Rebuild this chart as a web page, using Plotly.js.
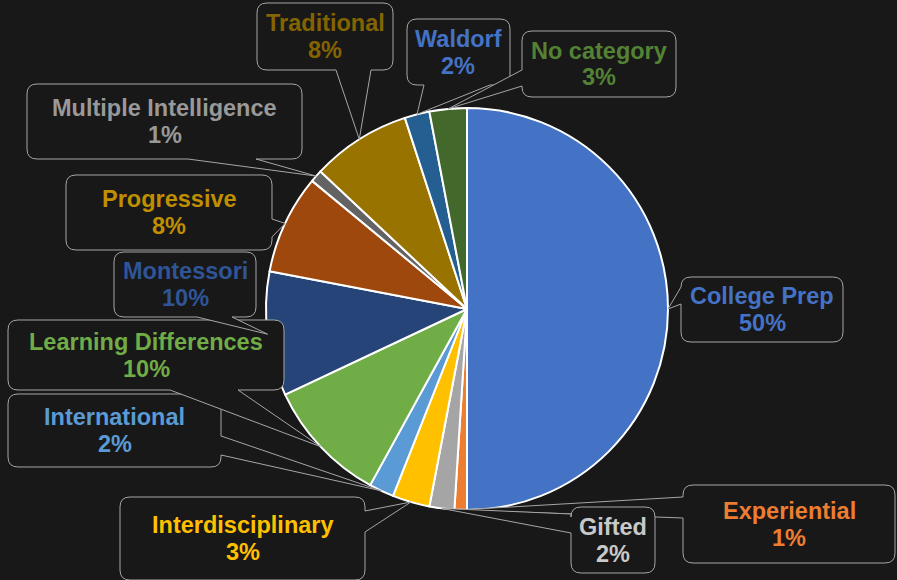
<!DOCTYPE html>
<html>
<head>
<meta charset="utf-8">
<script src="https://cdn.plot.ly/plotly-3.0.1.min.js"></script>
<style>
  html, body { margin: 0; padding: 0; background: #181818; }
  #chart { width: 897px; height: 580px; }
</style>
</head>
<body>
<div id="chart"></div>
<script>
// ---- data ----
const categories = ["College Prep", "Experiential", "Gifted", "Interdisciplinary", "International",
  "Learning Differences", "Montessori", "Progressive", "Multiple Intelligence", "Traditional",
  "Waldorf", "No category"];
const shares = [50, 1, 2, 3, 2, 10, 10, 8, 1, 8, 2, 3];
const pctLabels = ["50%", "1%", "2%", "3%", "2%", "10%", "10%", "8%", "1%", "8%", "2%", "3%"];

// ---- styles ----
const sliceColors = ["#4472C4", "#ED7D31", "#A5A5A5", "#FFC000", "#5B9BD5", "#70AD47",
  "#264478", "#9E480E", "#636363", "#997300", "#255E91", "#43682B"];
const labelColors = ["#4472C4", "#ED7D31", "#C9C9C9", "#FFC000", "#5B9BD5", "#70AD47",
  "#2F5597", "#BF8F00", "#999999", "#846400", "#4472C4", "#548235"];

const W = 897, H = 580;
const CX = 467, CY = 309, R = 201;   // pie geometry in px
const FONT_SIZE = 23.5, LINE_GAP = 27;

// callout boxes (px): [x0, y0, x1, y1], side of pointer, base range along that side
const boxes = [
  {b: [681, 277, 843, 342], side: "l", base: [287, 304]},   // College Prep
  {b: [683, 485, 895, 563], side: "l", base: [497, 518]},   // Experiential
  {b: [571, 507, 655, 573], side: "l", base: [514, 533]},   // Gifted
  {b: [120, 497, 365, 580], side: "r", base: [511, 532]},   // Interdisciplinary
  {b: [8, 394, 221, 467], side: "r", base: [436, 455]},     // International
  {b: [8, 320, 284, 390], side: "b", base: [170, 238]},     // Learning Differences
  {b: [114, 252, 256, 317], side: "b", base: [197, 232]},   // Montessori
  {b: [66, 175, 272, 250], side: "r", base: [219, 237]},    // Progressive
  {b: [27, 84, 302, 159], side: "b", base: [188, 256]},     // Multiple Intelligence
  {b: [257, 3, 393, 70], side: "b", base: [336, 371]},      // Traditional
  {b: [407, 19, 510, 85], side: "b", base: [424, 490]},     // Waldorf
  {b: [522, 31, 676, 97], side: "l", base: [70, 86]}        // No category
];

const px = x => x / W;
const py = y => 1 - y / H;
const P = (x, y) => px(x).toFixed(5) + "," + py(y).toFixed(5);

function calloutPath(bx, side, base, tip) {
  const [x0, y0, x1, y1] = bx;
  const r = 10;
  let d = "M" + P(x0 + r, y0);
  if (side === "t") d += " L" + P(base[0], y0) + " L" + P(tip[0], tip[1]) + " L" + P(base[1], y0);
  d += " L" + P(x1 - r, y0) + " Q" + P(x1, y0) + " " + P(x1, y0 + r);
  if (side === "r") d += " L" + P(x1, base[0]) + " L" + P(tip[0], tip[1]) + " L" + P(x1, base[1]);
  d += " L" + P(x1, y1 - r) + " Q" + P(x1, y1) + " " + P(x1 - r, y1);
  if (side === "b") d += " L" + P(base[1], y1) + " L" + P(tip[0], tip[1]) + " L" + P(base[0], y1);
  d += " L" + P(x0 + r, y1) + " Q" + P(x0, y1) + " " + P(x0, y1 - r);
  if (side === "l") d += " L" + P(x0, base[1]) + " L" + P(tip[0], tip[1]) + " L" + P(x0, base[0]);
  d += " L" + P(x0, y0 + r) + " Q" + P(x0, y0) + " " + P(x0 + r, y0) + " Z";
  return d;
}

// tip points from slice mid-angles (clockwise from 12 o'clock)
const total = shares.reduce((a, b) => a + b, 0);
let cum = 0;
const tips = shares.map(v => {
  const mid = (cum + v / 2) / total * 2 * Math.PI;
  cum += v;
  return [CX + R * Math.sin(mid), CY - R * Math.cos(mid)];
});

const shapes = categories.map((c, i) => ({
  type: "path",
  xref: "paper", yref: "paper",
  path: calloutPath(boxes[i].b, boxes[i].side, boxes[i].base, tips[i]),
  fillcolor: "#181818",
  line: {color: "#A6A6A6", width: 1},
  layer: "above"
}));

const annotations = [];
categories.forEach((c, i) => {
  const [x0, y0, x1, y1] = boxes[i].b;
  const cx = (x0 + x1) / 2, cy = (y0 + y1) / 2;
  const font = {family: "Liberation Sans, Arial, sans-serif", size: FONT_SIZE, weight: 700, color: labelColors[i]};
  annotations.push({
    xref: "paper", yref: "paper", x: px(cx), y: py(cy - LINE_GAP / 2),
    xanchor: "center", yanchor: "middle", text: c, showarrow: false, font: font
  });
  annotations.push({
    xref: "paper", yref: "paper", x: px(cx), y: py(cy + LINE_GAP / 2),
    xanchor: "center", yanchor: "middle", text: pctLabels[i], showarrow: false, font: font
  });
});

const trace = {
  type: "pie",
  labels: categories,
  values: shares,
  sort: false,
  direction: "clockwise",
  rotation: 0,
  textinfo: "none",
  hoverinfo: "label+percent",
  marker: {colors: sliceColors, line: {color: "#FFFFFF", width: 2}},
  domain: {x: [px(CX - R), px(CX + R)], y: [py(CY + R), py(CY - R)]},
  showlegend: false
};

const layout = {
  width: W, height: H,
  margin: {l: 0, r: 0, t: 0, b: 0},
  paper_bgcolor: "#181818",
  plot_bgcolor: "#181818",
  showlegend: false,
  shapes: shapes,
  annotations: annotations
};

Plotly.newPlot("chart", [trace], layout, {displayModeBar: false, staticPlot: true});
</script>
</body>
</html>
